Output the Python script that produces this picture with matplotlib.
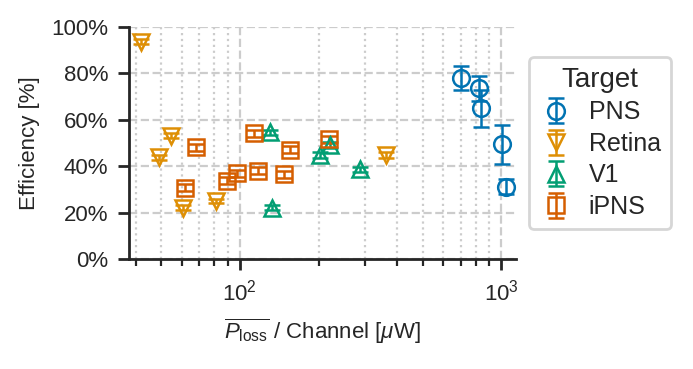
import matplotlib
matplotlib.use("Agg")
import matplotlib.pyplot as plt
import seaborn as sns

# PNS
pns_x = [703, 824, 839, 1007, 1042]
pns_y = [78, 73.5, 65, 49.4, 31.2]
pns_e = [5.3, 5.3, 8.0, 8.4, 3.3]
# Retina
ret_x = [41.8, 54.8, 49.3, 60.5, 81.2, 363]
ret_y = [93.7, 53.2, 43.8, 22.1, 25.0, 44.8]
ret_e = [1.2, 1.2, 1.0, 1.0, 1.0, 1.2]
# V1
v1_x = [130, 133, 203, 222, 287]
v1_y = [54.6, 22.1, 44.8, 49.1, 38.7]
v1_e = [1.2, 1.0, 1.2, 1.2, 1.0]
# iPNS
ipns_x = [67.9, 61.6, 89, 97.7, 113.4, 117.5, 156, 147, 219]
ipns_y = [48.1, 30.7, 33.8, 36.9, 54.2, 38.1, 47.0, 36.5, 51.7]
ipns_e = [1.5, 1.5, 1.5, 1.5, 1.5, 1.5, 1.5, 1.5, 1.5]

sns.set_style("ticks")
plt.rcParams['font.family'] = ['Liberation Sans', 'DejaVu Sans']
plt.rcParams['font.size'] = 8
plt.rcParams['mathtext.fontset'] = 'custom'
plt.rcParams['mathtext.rm'] = 'Liberation Sans'
plt.rcParams['mathtext.it'] = 'Liberation Sans:italic'

pal = sns.color_palette("colorblind")

fig, ax = plt.subplots(figsize=(3.465, 1.845), dpi=200)

groups = [
    ("PNS", pns_x, pns_y, pns_e, "o", pal[0]),
    ("Retina", ret_x, ret_y, ret_e, "v", pal[1]),
    ("V1", v1_x, v1_y, v1_e, "^", pal[2]),
    ("iPNS", ipns_x, ipns_y, ipns_e, "s", pal[3]),
]
for name, x, y, e, m, c in groups:
    ax.errorbar(x, y, yerr=e, fmt=m, color=c, mfc='none', mec=c, ms=6,
                mew=0.9, elinewidth=0.9, capsize=3, capthick=0.9,
                label=name, zorder=3)

ax.set_xscale('log')
ax.set_xlim(37.7, 1140)
ax.set_ylim(0, 100)
ax.set_yticks([0, 20, 40, 60, 80, 100])
ax.set_yticklabels(['0%', '20%', '40%', '60%', '80%', '100%'])
ax.grid(which='major', ls='--', color='#cccccc', lw=0.8)
ax.grid(which='minor', axis='x', ls=':', color='#cccccc', lw=0.8)
ax.set_xlabel(r'$\overline{P_{\mathrm{loss}}}$ / Channel [$\mu$W]')
ax.set_ylabel('Efficiency [%]')
ax.tick_params(which='major', length=4, width=1)
ax.tick_params(which='minor', length=2.5, width=0.8)
for s in ['left', 'bottom']:
    ax.spines[s].set_linewidth(1)
sns.despine(ax=ax)

leg = ax.legend(title='Target', loc='center left', bbox_to_anchor=(1.0, 0.5),
                frameon=True, fontsize=9, title_fontsize=10, handlelength=1.4,
                handletextpad=0.6, labelspacing=0.3)
leg.get_frame().set_edgecolor('#cccccc')

fig.subplots_adjust(left=0.186, right=0.745, top=0.927, bottom=0.298)
fig.savefig("out.png", dpi=200)
